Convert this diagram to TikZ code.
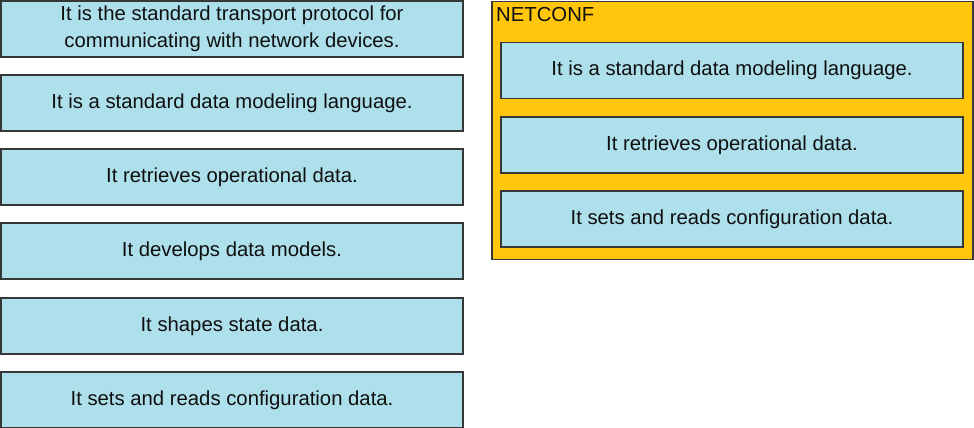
\documentclass[tikz,border=0pt]{standalone}
\usepackage{fontspec}
\setmainfont{Liberation Sans}
\definecolor{boxblue}{RGB}{174,224,236}
\definecolor{panelyellow}{RGB}{255,198,12}
\definecolor{edgegray}{RGB}{55,55,55}
\definecolor{txt}{RGB}{15,15,15}
\tikzset{
  choice/.style={draw=edgegray, line width=1.5pt, fill=boxblue, minimum width=462pt, minimum height=56pt,
    inner sep=0pt, align=center, text=txt, font=\fontsize{20.3pt}{26.5pt}\selectfont},
  panel/.style={draw=edgegray, line width=1.5pt, fill=panelyellow}
}
\begin{document}
\begin{tikzpicture}[x=1pt,y=-1pt]
\useasboundingbox (0,0) rectangle (974,428);
% left column
\node[choice] (l1) at (232,29) {It is the standard transport protocol for\\communicating with network devices.};
\node[choice] (l2) at (232,103) {It is a standard data modeling language.};
\node[choice] (l3) at (232,177) {It retrieves operational data.};
\node[choice] (l4) at (232,251) {It develops data models.};
\node[choice] (l5) at (232,326) {It shapes state data.};
\node[choice] (l6) at (232,400) {It sets and reads configuration data.};
% right panel
\node[panel, minimum width=481pt, minimum height=258pt, inner sep=0pt, anchor=north west] (p) at (491,0.75) {};
\node[anchor=north west, inner sep=0pt, text=txt, font=\fontsize{20.3pt}{24pt}\selectfont] (ptitle) at (496,7) {NETCONF};
\node[choice] (r1) at (732,70.5) {It is a standard data modeling language.};
\node[choice] (r2) at (732,145) {It retrieves operational data.};
\node[choice] (r3) at (732,219) {It sets and reads configuration data.};
\end{tikzpicture}
\end{document}
